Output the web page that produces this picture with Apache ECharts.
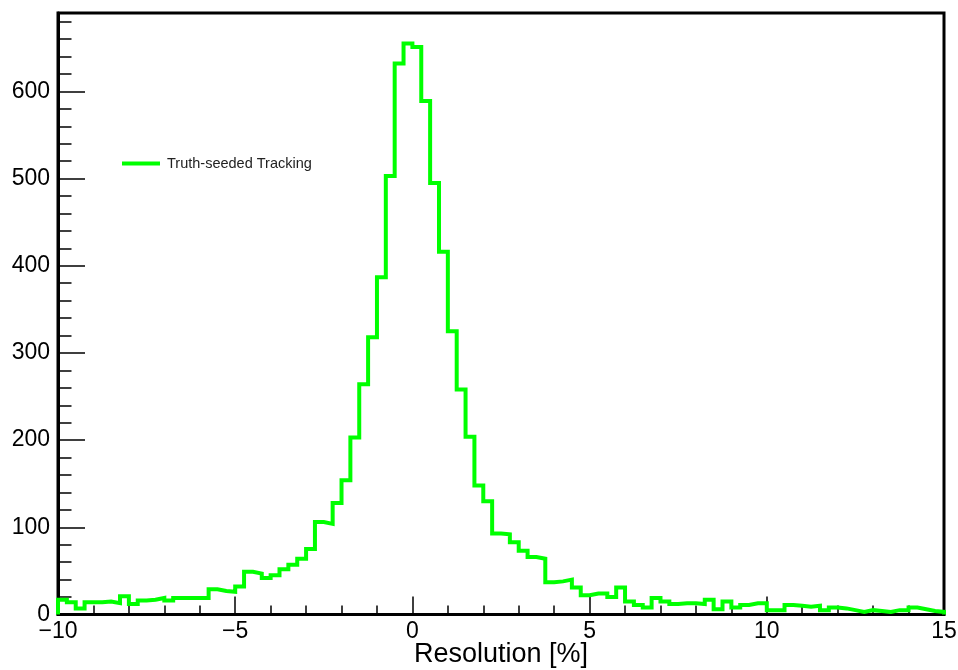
<!DOCTYPE html>
<html>
<head>
<meta charset="utf-8">
<script src="https://cdn.jsdelivr.net/npm/echarts@6/dist/echarts.min.js"></script>
<style>
html,body{margin:0;padding:0;background:#fff;}
#chart{width:958px;height:670px;}
</style>
</head>
<body>
<div id="chart"></div>
<script>
// Histogram: Resolution [%], 100 bins from -10 to 15
var binLow = -10;
var binWidth = 0.25;
var counts = [
  17,14,7,14,14,15,13,21,12,16,
  17,19,16,19,19,19,19,29,27,26,
  32,49,47,42,45,52,57,64,75,106,
  104,128,154,203,264,318,387,503,632,655,
  651,589,495,416,325,258,204,148,130,93,
  92,83,73,66,64,37,38,40,31,22,
  24,24,20,31,15,11,8,19,15,12,
  13,13,12,17,6,15,8,11,13,13,
  5,5,11,10,9,10,5,8,7,5,
  3,5,4,3,5,5,8,6,4,3
];
var seriesName = 'Truth-seeded Tracking';
var xTickLabels = [-10, -5, 0, 5, 10, 15];
var yTickLabels = [0, 100, 200, 300, 400, 500, 600];
var yMinorStep = 20;
var xRange = [-10, 15];
var yRange = [0, 690];

// build step points from the bins
var pts = [[binLow, 0]];
for (var i = 0; i < counts.length; i++) {
  pts.push([binLow + i * binWidth, counts[i]]);
}
pts.push([binLow + counts.length * binWidth, 0]);

var yMinor = [];
for (var v = yRange[0] + yMinorStep; v < yRange[1]; v += yMinorStep) {
  if (v % 100 !== 0) yMinor.push(v);
}

function fmt(v) {
  return v < 0 ? '\u2212' + Math.abs(v) : String(v);
}

var FONT = '"Liberation Sans", Arial, Helvetica, sans-serif';
var chart = echarts.init(document.getElementById('chart'), null, {renderer: 'canvas'});
chart.setOption({
  animation: false,
  backgroundColor: '#ffffff',
  grid: {
    left: 58, right: 14, top: 13, bottom: 55.5,
    containLabel: false,
    outerBoundsMode: 'none',
    show: true, borderColor: '#000', borderWidth: 3, backgroundColor: 'transparent'
  },
  legend: {
    show: true,
    left: 122, top: 156,
    padding: 0,
    icon: 'rect',
    itemWidth: 38, itemHeight: 4,
    itemGap: 10,
    textStyle: {fontFamily: FONT, fontSize: 14.5, color: '#222', padding: [0, 0, 0, 2]},
    data: [{name: seriesName, itemStyle: {color: '#00ff00'}}]
  },
  xAxis: {
    type: 'value',
    min: xRange[0], max: xRange[1], interval: 5,
    name: 'Resolution [%]',
    nameLocation: 'middle',
    nameGap: 27,
    nameMoveOverlap: false,
    nameTextStyle: {fontFamily: FONT, fontSize: 27, color: '#000'},
    axisLine: {show: true, onZero: false, lineStyle: {color: '#000', width: 3}},
    axisTick: {show: true, inside: true, length: 18, customValues: xTickLabels, lineStyle: {color: '#000', width: 1.5}},
    minorTick: {show: true, splitNumber: 5, length: 9, lineStyle: {color: '#000', width: 1.5}},
    axisLabel: {
      show: true, margin: 6, customValues: xTickLabels,
      fontFamily: FONT, fontSize: 23, color: '#000',
      formatter: function (v) { return fmt(v); }
    },
    splitLine: {show: false}
  },
  yAxis: [{
    type: 'value',
    min: yRange[0], max: yRange[1], interval: 100,
    axisLine: {show: true, onZero: false, lineStyle: {color: '#000', width: 3}},
    axisTick: {show: true, inside: true, length: 27, customValues: yTickLabels, lineStyle: {color: '#000', width: 1.5}},
    axisLabel: {
      show: true, margin: 8, customValues: yTickLabels,
      verticalAlignMinLabel: 'middle',
      fontFamily: FONT, fontSize: 23, color: '#000',
      formatter: function (v) { return fmt(v); }
    },
    splitLine: {show: false}
  }, {
    type: 'value',
    position: 'left',
    offset: 0,
    min: yRange[0], max: yRange[1], interval: 100,
    axisLine: {show: false, onZero: false},
    axisTick: {show: true, inside: true, length: 13.5, customValues: yMinor, lineStyle: {color: '#000', width: 1.5}},
    axisLabel: {show: false},
    splitLine: {show: false}
  }],
  series: [{
    name: seriesName,
    type: 'line',
    step: 'end',
    data: pts,
    showSymbol: false,
    symbol: 'none',
    clip: true,
    lineStyle: {color: '#00ff00', width: 4, join: 'miter'},
    itemStyle: {color: '#00ff00'},
    z: 1
  }]
});
</script>
</body>
</html>
